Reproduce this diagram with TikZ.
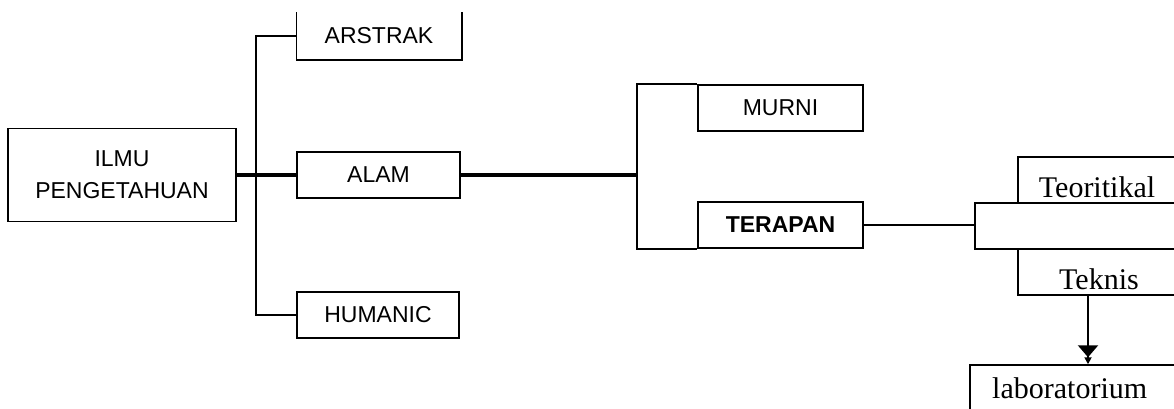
\documentclass[tikz,border=0pt]{standalone}
\usepackage{fontspec}
\setmainfont{Liberation Serif}
\setsansfont{Liberation Sans}
\usetikzlibrary{arrows.meta}
\begin{document}
\begin{tikzpicture}[x=1pt,y=-1pt,
  box/.style={draw=black, line width=1.5pt, rectangle, inner sep=0pt, minimum height=46pt},
  sflab/.style={font=\sffamily\fontsize{23pt}{32pt}\selectfont},
  rmlab/.style={font=\rmfamily\fontsize{30pt}{34pt}\selectfont, inner sep=0pt},
  thick line/.style={line width=3.4pt},
  mid line/.style={line width=2.4pt},
  thin line/.style={line width=1.3pt},
  arr/.style={line width=2.4pt, -{Triangle[width=20pt,length=12pt] Triangle[width=7pt,length=7pt]}}
]
\useasboundingbox (0,0) rectangle (1174,408);
\clip (0,0) rectangle (1174,408);
\fill[white] (0,0) rectangle (1174,408);

% left part
\node[box, sflab, minimum width=228pt, minimum height=93pt, align=center] (ilmu) at (122,175) {ILMU\\PENGETAHUAN};
\node[box, draw=none, sflab, minimum width=164pt] (arstrak) at (379,36) {ARSTRAK};
\draw[line width=1.5pt] (arstrak.north west) -- (arstrak.south west) -- (arstrak.south east) -- (arstrak.north east);
\node[box, sflab, minimum width=163pt] (alam) at (378.5,175) {ALAM};
\node[box, sflab, minimum width=162pt] (humanic) at (378,315) {HUMANIC};

\coordinate (v) at (256,175);
\draw[thick line] (ilmu.east) -- (alam.west);
\draw[thin line] (arstrak.west) -| (v) |- (humanic.west);

% middle part
\node[box, sflab, minimum width=165pt] (murni) at (780.5,108) {MURNI};
\node[box, font=\sffamily\bfseries\fontsize{23pt}{32pt}\selectfont, minimum width=165pt] (terapan) at (780.5,225) {TERAPAN};
\coordinate (b) at (637,175);
\draw[thick line] (alam.east) -- (b);
\draw[mid line] (murni.north west) -| (b) |- (terapan.south west);

% right part
\node[box, minimum width=201pt] (grp) at (1075.5,226) {};
\node[box, minimum width=158pt] (teori) at (1097,180) {};
\node[rmlab] (teoriT) at (1097,187) {Teoritikal};
\node[box, minimum width=158pt] (teknis) at (1097,272) {};
\node[rmlab] (teknisT) at (1099,279) {Teknis};
\node[box, minimum width=206pt, minimum height=66pt] (lab) at (1073,398) {};
\node[rmlab, anchor=west] (labT) at (992,388) {laboratorium};
\draw[mid line] (terapan.east) -- (terapan.east -| grp.west);
\draw[arr] ([xshift=-9pt]teknis.south) -- ([xshift=-9pt]teknis.south |- lab.north);
\end{tikzpicture}
\end{document}
